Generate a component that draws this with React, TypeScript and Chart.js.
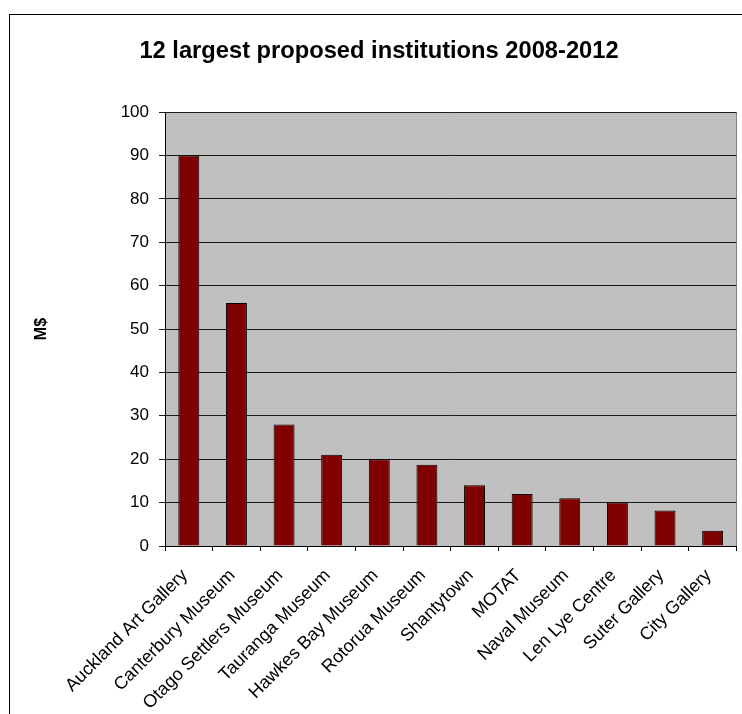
import React, { useEffect, useRef } from "react";
import { Chart, registerables } from "chart.js";

Chart.register(...registerables);

const categories = [
  "Auckland Art Gallery",
  "Canterbury Museum",
  "Otago Settlers Museum",
  "Tauranga Museum",
  "Hawkes Bay Museum",
  "Rotorua Museum",
  "Shantytown",
  "MOTAT",
  "Naval Museum",
  "Len Lye Centre",
  "Suter Gallery",
  "City Gallery",
];
const valuesMillions = [90, 56, 28, 21, 20, 18.7, 14, 12, 11, 10, 8.2, 3.5];
const chartTitle = "12 largest proposed institutions 2008-2012";
const yAxisTitle = "M$";
const yMin = 0;
const yMax = 100;
const yStep = 10;

const FONT = "'Liberation Sans', Arial, Helvetica, sans-serif";

const plotBackground = {
  id: "plotBackground",
  beforeDraw(chart: any) {
    const { ctx, chartArea: a } = chart;
    ctx.save();
    ctx.fillStyle = "#C0C0C0";
    ctx.fillRect(a.left, a.top, a.right - a.left, a.bottom - a.top);
    ctx.strokeStyle = "#808080";
    ctx.lineWidth = 1;
    ctx.beginPath();
    ctx.moveTo(Math.round(a.right) + 0.5, a.top);
    ctx.lineTo(Math.round(a.right) + 0.5, a.bottom);
    ctx.stroke();
    ctx.restore();
  },
};

export default function App() {
  const canvasRef = useRef<HTMLCanvasElement | null>(null);

  useEffect(() => {
    const canvas = canvasRef.current;
    if (!canvas) return;
    const chart = new Chart(canvas, {
      type: "bar",
      data: {
        labels: categories,
        datasets: [
          {
            data: valuesMillions,
            backgroundColor: "#800000",
            borderColor: "#000000",
            borderWidth: 1,
            barPercentage: 0.44,
            categoryPercentage: 1,
          },
        ],
      },
      options: {
        animation: false,
        responsive: false,
        devicePixelRatio: 1,
        layout: { padding: { left: 18, right: 2, top: 0, bottom: 0 } },
        plugins: {
          legend: { display: false },
          tooltip: { enabled: false },
          title: {
            display: true,
            text: chartTitle,
            color: "#000",
            font: { family: FONT, size: 23.7, weight: "bold" },
            padding: { top: 37, bottom: 46.6 },
          },
        },
        scales: {
          x: {
            offset: true,
            afterFit(scale: any) {
              scale.height = 168;
            },
            grid: {
              display: true,
              drawOnChartArea: false,
              drawTicks: true,
              tickLength: 5,
              color: "#000",
              offset: true,
            },
            border: { display: true, color: "#000", width: 1 },
            ticks: {
              color: "#000",
              font: { family: FONT, size: 18 },
              minRotation: 45,
              maxRotation: 45,
              autoSkip: false,
              padding: 14,
              labelOffset: -4,
            },
          },
          y: {
            min: yMin,
            max: yMax,
            afterFit(scale: any) {
              scale.width = 147;
            },
            grid: {
              color: "#1a1a1a",
              tickLength: 6,
              drawTicks: true,
            },
            border: { display: true, color: "#000", width: 1 },
            ticks: {
              stepSize: yStep,
              color: "#000",
              font: { family: FONT, size: 17 },
              padding: 10,
            },
            title: {
              display: true,
              text: yAxisTitle,
              color: "#000",
              font: { family: FONT, size: 16, weight: "bold" },
              padding: { top: 14, bottom: 0 },
            },
          },
        },
      },
      plugins: [plotBackground],
    });
    return () => chart.destroy();
  }, []);

  return (
    <div
      style={{
        position: "fixed",
        left: 0,
        top: 0,
        width: 742,
        height: 714,
        overflow: "hidden",
        background: "#fff",
      }}
    >
      <div
        style={{
          position: "absolute",
          left: 9,
          top: 14,
          width: 800,
          height: 800,
          borderLeft: "1px solid #000",
          borderTop: "1px solid #000",
        }}
      />
      <canvas
        ref={canvasRef}
        width={742}
        height={714}
        style={{ position: "absolute", left: 0, top: 0, width: 742, height: 714 }}
      />
    </div>
  );
}
